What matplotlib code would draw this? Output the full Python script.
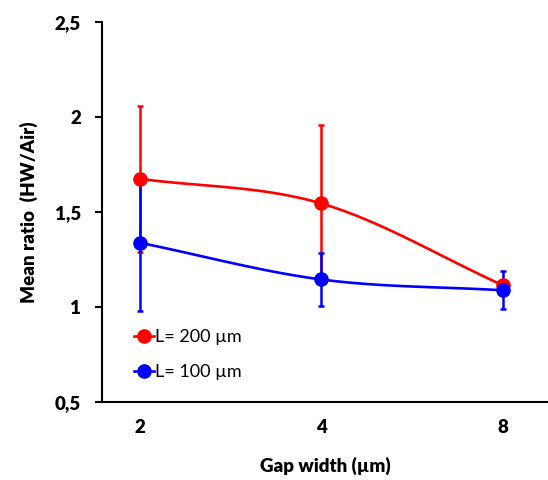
import numpy as np
import matplotlib.pyplot as plt

# Data
gaps = ['2', '4', '8']
red_mean = [1.675, 1.545, 1.115]
red_err = [0.385, 0.415, 0.02]
blue_mean = [1.338, 1.145, 1.088]
blue_err = [0.36, 0.14, 0.10]

plt.rcParams['font.family'] = ['Lato', 'DejaVu Sans']


def smooth(x, y, n=40):
    # Catmull-Rom style smoothing, like the spreadsheet "smoothed line"
    x = np.asarray(x, float)
    y = np.asarray(y, float)
    px = np.concatenate([[2 * x[0] - x[1]], x, [2 * x[-1] - x[-2]]])
    py = np.concatenate([[2 * y[0] - y[1]], y, [2 * y[-1] - y[-2]]])
    xs, ys = [], []
    t = np.linspace(0, 1, n)
    for i in range(1, len(px) - 2):
        p0, p1, p2, p3 = [np.array([px[j], py[j]]) for j in range(i - 1, i + 3)]
        b1 = p1 + (p2 - p0) / 6
        b2 = p2 - (p3 - p1) / 6
        pts = (np.outer((1 - t) ** 3, p1) + np.outer(3 * (1 - t) ** 2 * t, b1)
               + np.outer(3 * (1 - t) * t ** 2, b2) + np.outer(t ** 3, p2))
        xs.extend(pts[:, 0])
        ys.extend(pts[:, 1])
    return xs, ys


fig = plt.figure(figsize=(5.48, 4.8), dpi=100)
ax = fig.add_axes([0.186, 0.1625, 0.814, 0.7915])

x = np.arange(len(gaps))

# error bars first, blue over red
ax.errorbar(x, red_mean, yerr=red_err, fmt='none', ecolor='#FF0000',
            elinewidth=1.8, capsize=2, capthick=1.8, zorder=2)
ax.errorbar(x, blue_mean, yerr=blue_err, fmt='none', ecolor='#0000FF',
            elinewidth=1.8, capsize=2, capthick=1.8, zorder=3)

# smoothed lines with markers
sx, sy = smooth(x, red_mean)
ax.plot(sx, sy, color='#FF0000', lw=1.9, zorder=4)
ax.plot(x, red_mean, 'o', color='#FF0000', ms=9.5, zorder=4)
sx, sy = smooth(x, blue_mean)
ax.plot(sx, sy, color='#0000FF', lw=1.9, zorder=5)
ax.plot(x, blue_mean, 'o', color='#0000FF', ms=9.5, zorder=5)

# legend handles
ax.plot([], [], '-o', color='#FF0000', lw=1.9, ms=9.5, label='L= 200 µm')
ax.plot([], [], '-o', color='#0000FF', lw=1.9, ms=9.5, label='L= 100 µm')
ax.legend(loc='lower left', bbox_to_anchor=(0.035, 0.015), frameon=False,
          fontsize=13, handlelength=1.1, handletextpad=0.05, labelspacing=1.05)

ax.set_xlim(-0.21, 2.25)
ax.set_ylim(0.5, 2.5)
ax.set_yticks([0.5, 1, 1.5, 2, 2.5])
ax.set_yticklabels(['0,5', '1', '1,5', '2', '2,5'], fontweight='heavy', fontsize=13.5)
ax.set_xticks(x)
ax.set_xticklabels(gaps, fontweight='heavy', fontsize=13.5)
ax.tick_params(axis='x', length=0, pad=12)
ax.tick_params(axis='y', length=5, width=1.5, direction='out', pad=10)

for s in ['top', 'right']:
    ax.spines[s].set_visible(False)
for s in ['left', 'bottom']:
    ax.spines[s].set_linewidth(1.5)

ax.set_xlabel('Gap width (µm)', fontweight='heavy', fontsize=13.5, labelpad=15)
ax.set_ylabel('Mean ratio  (HW/Air)', fontweight='heavy', fontsize=13.5, labelpad=12)

plt.savefig('out.png', dpi=100)
